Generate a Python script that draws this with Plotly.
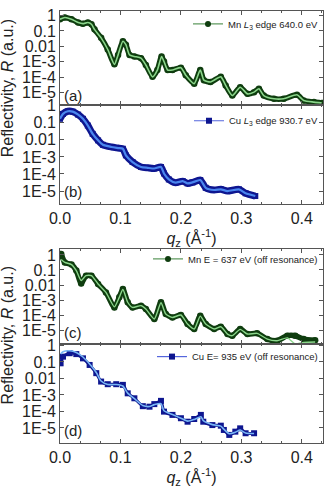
import plotly.graph_objects as go

# ---------------- data ----------------
# (a) Mn L3 edge 640.0 eV
q_a = [0.000, 0.008, 0.019, 0.030, 0.038, 0.046, 0.052, 0.057, 0.068, 0.079,
       0.090, 0.096, 0.104, 0.109, 0.115, 0.123, 0.134, 0.142, 0.153, 0.161,
       0.168, 0.172, 0.178, 0.186, 0.200, 0.208, 0.222, 0.232, 0.238, 0.249,
       0.266, 0.274, 0.285, 0.298, 0.310, 0.321, 0.329, 0.337, 0.354, 0.370,
       0.392, 0.403, 0.420, 0.433]
R_a = [0.575, 0.74, 0.575, 0.347, 0.295, 0.347, 0.269, 0.126, 0.0355, 6.3e-3,
       6.9e-4, 2.8e-3, 0.0214, 0.0129, 2.8e-3, 2.24e-3, 1.74e-3, 6.3e-4, 1.07e-4, 2.95e-4,
       2.24e-3, 1.05e-3, 2.95e-4, 2.95e-4, 4.2e-4, 1.38e-4, 3.9e-5, 2.95e-4, 6.5e-5, 5.0e-5,
       1.07e-4, 3.0e-5, 6.6e-6, 2.3e-5, 8.5e-6, 1.1e-5, 1.8e-5, 6.6e-6, 4.1e-6, 4.1e-6,
       7.4e-6, 3.2e-6, 2.5e-6, 2.2e-6]

# (b) Cu L3 edge 930.7 eV
q_b = [0.000, 0.005, 0.013, 0.021, 0.030, 0.038, 0.046, 0.054, 0.063, 0.071,
       0.085, 0.096, 0.104, 0.109, 0.120, 0.134, 0.145, 0.156, 0.167, 0.172,
       0.180, 0.191, 0.203, 0.211, 0.219, 0.232, 0.241, 0.255, 0.266, 0.277,
       0.296, 0.307, 0.323]
R_b = [0.17, 0.33, 0.47, 0.45, 0.30, 0.17, 0.069, 0.0224, 9.3e-3, 5.1e-3,
       3.8e-3, 3.3e-3, 3.0e-3, 1.23e-3, 5.0e-4, 2.57e-4, 2.29e-4, 2.09e-4, 2.57e-4, 1.07e-4,
       4.8e-5, 3.1e-5, 3.8e-5, 2.8e-5, 3.2e-5, 4.4e-5, 1.55e-5, 1.15e-5, 1.26e-5, 1.0e-5,
       1.26e-5, 7.4e-6, 5.1e-6]

# (c) Mn E = 637 eV (off resonance)
q_c = [0.002, 0.008, 0.019, 0.027, 0.035, 0.043, 0.052, 0.063, 0.076, 0.090,
       0.098, 0.104, 0.112, 0.120, 0.134, 0.142, 0.156, 0.167, 0.175, 0.186,
       0.200, 0.211, 0.222, 0.232, 0.241, 0.255, 0.266, 0.277, 0.285, 0.298,
       0.310, 0.326, 0.343, 0.359, 0.376, 0.389, 0.403, 0.422]
R_c = [1.17, 0.32, 0.23, 0.091, 0.0126, 0.042, 0.042, 0.0117, 3.2e-3, 3.2e-4,
       1.5e-3, 5.4e-3, 7.1e-4, 3.2e-4, 4.2e-4, 2.5e-4, 5.4e-5, 7.1e-4, 1.17e-4, 6.9e-5,
       1.0e-4, 2.5e-5, 1.17e-5, 9.1e-5, 2.5e-5, 1.17e-5, 1.66e-5, 5.4e-6, 4.2e-6, 1.17e-5,
       5.4e-6, 6.0e-6, 2.5e-6, 1.95e-6, 4.2e-6, 4.2e-6, 2.5e-6, 2.1e-6]
fit_c = [0.5, 0.32, 0.23, 0.091, 0.02, 0.042, 0.042, 0.0117, 3.2e-3, 3.5e-4,
         1.5e-3, 5.0e-3, 7.1e-4, 3.2e-4, 4.2e-4, 2.5e-4, 5.4e-5, 6.5e-4, 1.17e-4, 6.9e-5,
         1.0e-4, 2.5e-5, 1.17e-5, 8.5e-5, 2.5e-5, 1.17e-5, 1.66e-5, 5.4e-6, 4.2e-6, 1.1e-5,
         5.4e-6, 6.0e-6, 2.5e-6, 1.95e-6, 3.0e-6, 1.2e-6, 1.5e-6, 1.6e-6]

# (d) Cu E = 935 eV (off resonance)
q_d = [0.001, 0.005, 0.016, 0.027, 0.038, 0.049, 0.060, 0.068, 0.079, 0.093,
       0.104, 0.112, 0.123, 0.137, 0.148, 0.156, 0.167, 0.172, 0.186, 0.200,
       0.211, 0.222, 0.233, 0.237, 0.252, 0.266, 0.271, 0.280, 0.290, 0.298,
       0.307, 0.321]
R_d = [0.083, 0.21, 0.34, 0.30, 0.166, 0.066, 0.021, 6.5e-3, 4.5e-3, 4.5e-3,
       4.1e-3, 1.26e-3, 6.3e-4, 2.1e-4, 1.95e-4, 2.8e-4, 4.4e-4, 9.8e-5, 6.2e-5, 3.9e-5,
       2.4e-5, 3.5e-5, 6.2e-5, 2.4e-5, 1.5e-5, 1.38e-5, 7.6e-6, 3.8e-6, 6.0e-6, 9.5e-6,
       4.8e-6, 4.8e-6]
fit_d = [0.3, 0.42, 0.48, 0.38, 0.2, 0.075, 0.023, 7.0e-3, 4.3e-3, 4.3e-3,
         3.5e-3, 1.3e-3, 6.0e-4, 2.3e-4, 2.0e-4, 2.6e-4, 3.0e-4, 1.1e-4, 6.5e-5, 3.9e-5,
         2.6e-5, 3.3e-5, 4.8e-5, 2.8e-5, 1.6e-5, 1.3e-5, 8.5e-6, 4.5e-6, 5.5e-6, 7.5e-6,
         5.0e-6, 4.6e-6]

legend_names = ["Mn <i>L</i><sub>3</sub> edge 640.0 eV",
                "Cu <i>L</i><sub>3</sub> edge 930.7 eV",
                "Mn E = 637 eV (off resonance)",
                "Cu E= 935 eV (off resonance)"]
panel_labels = ["(a)", "(b)", "(c)", "(d)"]
y_tickvals = [1, 0.1, 0.01, 1e-3, 1e-4, 1e-5]
y_ticktext = ["1", "0.1", "0.01", "1E-3", "1E-4", "1E-5"]
x_tickvals = [0.0, 0.1, 0.2, 0.3, 0.4]

# ---------------- styles ----------------
FONT = "Liberation Sans, Arial, sans-serif"
DKG, LTG, LGG = "#0f3d0f", "#8bd68b", "#5f9a5f"
DKB, LTB1, LTB2, LGB = "#0e1690", "#4a86ee", "#78b6f4", "#5566dd"

panels = [
    dict(q=q_a, R=R_a, fit=R_a, dark=DKG, light=LTG, leg=LGG, sym="circle", bw=5.5, ms=6.5, fw=1.6),
    dict(q=q_b, R=R_b, fit=R_b, dark=DKB, light=LTB1, leg=LGB, sym="square", bw=7, ms=6, fw=2.2),
    dict(q=q_c, R=R_c, fit=fit_c, dark=DKG, light=LTG, leg=LGG, sym="circle", bw=5.5, ms=6.5, fw=1.4),
    dict(q=q_d, R=R_d, fit=fit_d, dark=DKB, light=LTB2, leg=LGB, sym="square", bw=3, ms=6, fw=1.6),
]

# plot area: x 60..323 px, y 11..443 px (fig 326x488)
domains = [[0.7824, 0.999], [0.5532, 0.7824], [0.2292, 0.4491], [0.0, 0.2292]]
yranges = [[-5.79, 0.26], [-5.76, 0.04], [-5.93, 0.40], [-5.91, 0.09]]
legend_y = [0.970, 0.746, 0.426, 0.200]
label_y = [0.10, 0.126, 0.116, 0.13]

fig = go.Figure()
for i, p in enumerate(panels):
    xa = "x" if i == 0 else f"x{i+1}"
    ya = "y" if i == 0 else f"y{i+1}"
    lg = "legend" if i == 0 else f"legend{i+1}"
    # measured data (dense dark band of markers)
    fig.add_trace(go.Scatter(x=p["q"], y=p["R"], mode="lines+markers",
                             line=dict(color=p["dark"], width=p["bw"], shape="spline", smoothing=0.6),
                             marker=dict(color=p["dark"], size=p["ms"], symbol=p["sym"]),
                             xaxis=xa, yaxis=ya, showlegend=False, hoverinfo="skip"))
    # fit
    fig.add_trace(go.Scatter(x=p["q"], y=p["fit"], mode="lines",
                             line=dict(color=p["light"], width=p["fw"], shape="spline", smoothing=0.6),
                             xaxis=xa, yaxis=ya, showlegend=False, hoverinfo="skip"))
    # legend entry
    fig.add_trace(go.Scatter(x=[None], y=[None], mode="lines+markers", name=legend_names[i],
                             line=dict(color=p["leg"], width=1.2),
                             marker=dict(color=p["dark"], size=6, symbol=p["sym"]),
                             xaxis=xa, yaxis=ya, showlegend=True, legend=lg))

axis_common = dict(showline=True, linecolor="#555", linewidth=1, mirror="ticks",
                   ticks="inside", tickcolor="#555", showgrid=False, zeroline=False,
                   tickfont=dict(family=FONT, size=16, color="#222"))
layout = dict(width=326, height=488, margin=dict(l=60, r=3, t=11, b=45),
              paper_bgcolor="white", plot_bgcolor="white",
              font=dict(family=FONT, color="#222"))
xtitle = "<i>q</i><sub>z</sub> (Å<sup>-1</sup>)"
for i in range(4):
    xk = "xaxis" if i == 0 else f"xaxis{i+1}"
    yk = "yaxis" if i == 0 else f"yaxis{i+1}"
    ya = "y" if i == 0 else f"y{i+1}"
    xa = "x" if i == 0 else f"x{i+1}"
    show = i in (1, 3)
    layout[xk] = dict(axis_common, range=[0, 0.435], anchor=ya, domain=[0, 1],
                      tickvals=x_tickvals, tickformat=".1f", ticklen=4,
                      showticklabels=show,
                      minor=dict(dtick=0.1 / 3, tick0=0, ticks="inside", ticklen=2, tickcolor="#555"),
                      title=dict(text=xtitle if show else "", font=dict(family=FONT, size=16), standoff=2))
    layout[yk] = dict(axis_common, type="log", range=yranges[i], anchor=xa, domain=domains[i],
                      tickvals=y_tickvals, ticktext=y_ticktext, ticklen=4)
    lg = "legend" if i == 0 else f"legend{i+1}"
    layout[lg] = dict(x=1.0, xanchor="right", y=legend_y[i], yanchor="middle",
                      bgcolor="rgba(0,0,0,0)", borderwidth=0, itemwidth=30,
                      font=dict(family=FONT, size=9.5, color="#222"), tracegroupgap=0)

fig.update_layout(**layout)

annotations = []
for i in range(4):
    xa = "x" if i == 0 else f"x{i+1}"
    ya = "y" if i == 0 else f"y{i+1}"
    annotations.append(dict(text=panel_labels[i], xref=f"{xa} domain", yref=f"{ya} domain",
                            x=0.008, y=label_y[i], xanchor="left", yanchor="middle",
                            showarrow=False, font=dict(family=FONT, size=15, color="#222")))
for yc in (0.822, 0.25):
    annotations.append(dict(text="Reflectivity, <i>R</i> (a.u.)", xref="paper", yref="paper",
                            x=-0.2, y=yc, xanchor="center", yanchor="middle", textangle=-90,
                            showarrow=False, font=dict(family=FONT, size=16, color="#222")))
fig.update_layout(annotations=annotations)

fig.write_html("out.html")
